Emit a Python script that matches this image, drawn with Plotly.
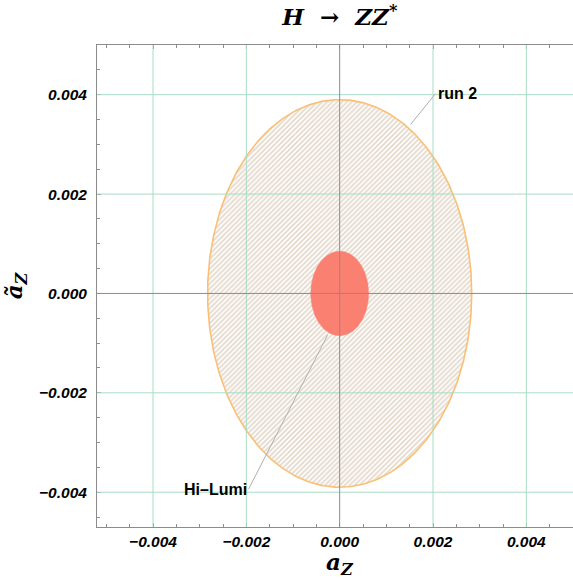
import numpy as np
import plotly.graph_objects as go

# Ellipse data (center and semi-axes, in units of a_Z, ã_Z)
region_names = ["run 2", "Hi–Lumi"]
center_x = [0.0, 0.0]
center_y = [0.0, 0.0]
semi_x = [0.00283, 0.00062]
semi_y = [0.0039, 0.00085]

# Tick labels / grid values
tick_vals = [-0.004, -0.002, 0.0, 0.002, 0.004]
grid_vals = [-0.004, -0.002, 0.002, 0.004]

# Label anchor points on the ellipses
run2_point = (0.00152, 0.00340)
hilumi_point = (-0.00026, -0.00084)

t = np.linspace(0, 2 * np.pi, 361)

fig = go.Figure()

# run 2 (hatched)
ex = center_x[0] + semi_x[0] * np.cos(t)
ey = center_y[0] + semi_y[0] * np.sin(t)
fig.add_trace(go.Scatter(
    x=ex, y=ey, mode="lines", fill="toself",
    line=dict(color="#fbbf74", width=1.6),
    fillcolor="rgba(0,0,0,0)",
    fillpattern=dict(shape="/", fgcolor="#c8b196", bgcolor="#ffffff",
                     size=3.5, solidity=0.5),
    hoverinfo="skip", showlegend=False, name=region_names[0]))

# Hi-Lumi (solid)
hx = center_x[1] + semi_x[1] * np.cos(t)
hy = center_y[1] + semi_y[1] * np.sin(t)
fig.add_trace(go.Scatter(
    x=hx, y=hy, mode="lines", fill="toself",
    line=dict(color="#fa8072", width=0.5),
    fillcolor="#fa8072",
    hoverinfo="skip", showlegend=False, name=region_names[1]))

shapes = []
for v in grid_vals:
    shapes.append(dict(type="line", xref="x", yref="paper", x0=v, x1=v, y0=0, y1=1,
                       line=dict(color="#a8dcc5", width=1), layer="above"))
    shapes.append(dict(type="line", xref="paper", yref="y", x0=0, x1=1, y0=v, y1=v,
                       line=dict(color="#a8dcc5", width=1), layer="above"))
shapes.append(dict(type="line", xref="x", yref="paper", x0=0, x1=0, y0=0, y1=1,
                   line=dict(color="#8c8c8c", width=1), layer="above"))
shapes.append(dict(type="line", xref="paper", yref="y", x0=0, x1=1, y0=0, y1=0,
                   line=dict(color="#8c8c8c", width=1), layer="above"))

serif = "DejaVu Serif"
lab_font = dict(family="Liberation Sans", size=16, color="black", weight="bold")
annotations = [
    dict(x=run2_point[0], y=run2_point[1], xref="x", yref="y", text=region_names[0],
         showarrow=True, arrowhead=0, arrowwidth=1, arrowcolor="#b0b0b0",
         ax=25, ay=-31, xanchor="left", yanchor="middle", font=lab_font),
    dict(x=hilumi_point[0], y=hilumi_point[1], xref="x", yref="y", text=region_names[1],
         showarrow=True, arrowhead=0, arrowwidth=1, arrowcolor="#b0b0b0",
         ax=-79, ay=154, xanchor="right", yanchor="middle", font=lab_font),
    dict(x=0, y=-0.076, xref="x", yref="paper", text="<b><i>a</i><sub><i>Z</i></sub></b>",
         showarrow=False, xanchor="center", yanchor="middle",
         font=dict(family=serif, size=23, color="black")),
]

tick_font = dict(family="Liberation Sans", size=15.5, color="black",
                 weight="bold", style="italic")

fig.update_layout(
    width=573, height=579,
    margin=dict(l=97, r=0, t=45, b=52, autoexpand=False),
    paper_bgcolor="white", plot_bgcolor="white",
    title=dict(text="<b><i>H</i>  →  <i>ZZ</i><sup>*</sup></b>",
               x=0.593, xanchor="center", y=0.97, yanchor="middle",
               yref="container",
               font=dict(family=serif, size=23, color="black")),
    shapes=shapes, annotations=annotations,
    xaxis=dict(range=[-0.0052, 0.005], tickvals=tick_vals, tickformat=".3f",
               showgrid=False, zeroline=False, showline=True, linecolor="#8c8c8c",
               linewidth=1, mirror="ticks", ticks="inside", ticklen=4,
               tickcolor="#8c8c8c", automargin=False,
               minor=dict(dtick=0.0005, ticks="inside", ticklen=3,
                          tickcolor="#8c8c8c", showgrid=False),
               tickfont=tick_font),
    yaxis=dict(range=[-0.0047, 0.005], tickvals=tick_vals, tickformat=".3f",
               showgrid=False, zeroline=False, showline=True, linecolor="#8c8c8c",
               linewidth=1, mirror=False, ticks="inside", ticklen=4,
               tickcolor="#8c8c8c", automargin=False,
               minor=dict(dtick=0.0005, ticks="inside", ticklen=3,
                          tickcolor="#8c8c8c", showgrid=False),
               tickfont=tick_font, ticklabelstandoff=6,
               title=dict(text="<b><i>ã</i><sub><i>Z</i></sub></b>",
                          font=dict(family=serif, size=23, color="black"),
                          standoff=10)),
)

fig.write_html("out.html", config={"displayModeBar": False},
               post_script="document.body.style.margin='0px';document.body.style.overflow='hidden';")
